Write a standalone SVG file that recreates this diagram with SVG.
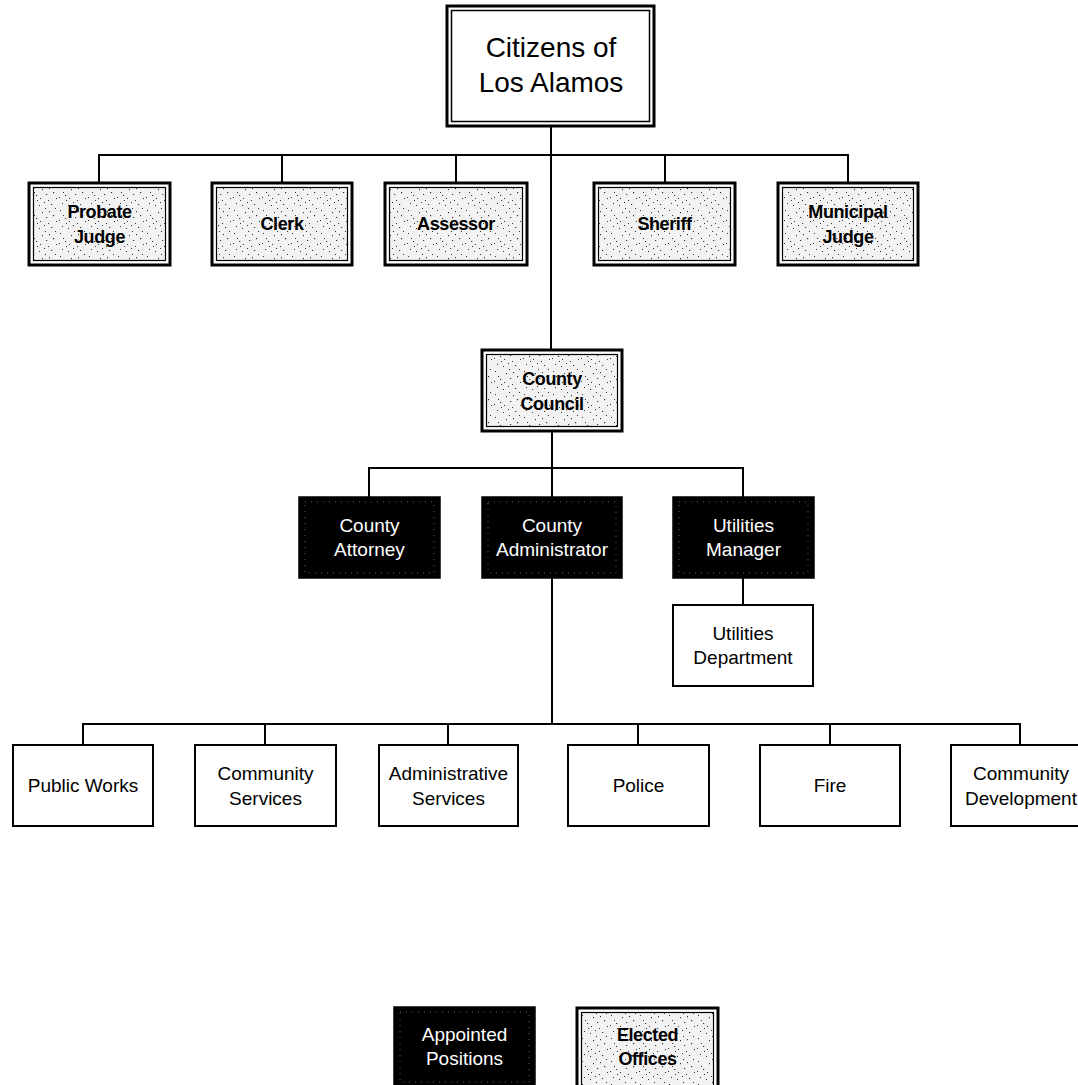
<svg xmlns="http://www.w3.org/2000/svg" width="1078" height="1085" viewBox="0 0 1078 1085">
<style>
.conn{stroke:#000;stroke-width:2;fill:none;stroke-linecap:square}
.outer{fill:#fff;stroke:#000;stroke-width:3}
.inner{fill:url(#stip);stroke:#000;stroke-width:1.2}
.cinner{fill:#fff;stroke:#000;stroke-width:1.5}
.appt{fill:#000;stroke:#000;stroke-width:1.5}
.apptin{fill:none;stroke:#777;stroke-width:0.8;stroke-dasharray:1 5}
.plain{fill:#fff;stroke:#000;stroke-width:2}
text{font-family:"Liberation Sans",Arial,sans-serif;text-anchor:middle}
.tb{font-size:18px;font-weight:bold;fill:#000;letter-spacing:-0.4px}
.tw{font-size:19px;fill:#fff}
.tn{font-size:19px;fill:#000}
.tc{font-size:28px;fill:#000}
</style>
<defs>
<pattern id="stip" width="29" height="23" patternUnits="userSpaceOnUse">
<rect width="29" height="23" fill="#f2f2f2"/>
<g fill="#333">
<rect x="2" y="3" width="1" height="1"/><rect x="7" y="11" width="1.2" height="1"/><rect x="13" y="5" width="1" height="1.2"/>
<rect x="19" y="16" width="1" height="1"/><rect x="24" y="8" width="1.2" height="1.2"/><rect x="4" y="19" width="1" height="1"/>
<rect x="10" y="21" width="1" height="1"/><rect x="16" y="1" width="1" height="1"/><rect x="22" y="20" width="1.2" height="1"/>
<rect x="27" y="14" width="1" height="1"/><rect x="11" y="14" width="1" height="1"/><rect x="5" y="8" width="1" height="1"/>
<rect x="20" y="4" width="1" height="1.2"/><rect x="15" y="18" width="1" height="1"/><rect x="26" y="1" width="1" height="1"/>
<rect x="1" y="13" width="1" height="1"/><rect x="17" y="10" width="1.2" height="1"/><rect x="8" y="16" width="1" height="1"/>
</g>
</pattern>
</defs>

<g id="connectors">
<line class="conn" x1="551" y1="126" x2="551" y2="350"/>
<line class="conn" x1="99" y1="155" x2="848" y2="155"/>
<line class="conn" x1="99" y1="155" x2="99" y2="183"/>
<line class="conn" x1="282" y1="155" x2="282" y2="183"/>
<line class="conn" x1="456" y1="155" x2="456" y2="183"/>
<line class="conn" x1="665" y1="155" x2="665" y2="183"/>
<line class="conn" x1="848" y1="155" x2="848" y2="183"/>
<line class="conn" x1="552" y1="431" x2="552" y2="497"/>
<line class="conn" x1="369" y1="468" x2="743" y2="468"/>
<line class="conn" x1="369" y1="468" x2="369" y2="497"/>
<line class="conn" x1="743" y1="468" x2="743" y2="497"/>
<line class="conn" x1="743" y1="578" x2="743" y2="605"/>
<line class="conn" x1="552" y1="578" x2="552" y2="724"/>
<line class="conn" x1="83" y1="724" x2="1020" y2="724"/>
<line class="conn" x1="83" y1="724" x2="83" y2="745"/>
<line class="conn" x1="265" y1="724" x2="265" y2="745"/>
<line class="conn" x1="448" y1="724" x2="448" y2="745"/>
<line class="conn" x1="638" y1="724" x2="638" y2="745"/>
<line class="conn" x1="830" y1="724" x2="830" y2="745"/>
<line class="conn" x1="1020" y1="724" x2="1020" y2="745"/>
</g>

<g id="citizens">
<rect class="outer" x="447" y="6" width="207" height="120" stroke-width="2.5"/>
<rect class="cinner" x="451.5" y="10.5" width="198" height="111"/>
<text class="tc" x="551" y="57">Citizens of</text>
<text class="tc" x="551" y="92">Los Alamos</text>
</g>

<g id="probate-judge">
<rect class="outer" x="29" y="183" width="141" height="82"/>
<rect class="inner" x="33.5" y="187.5" width="132" height="73"/>
<text class="tb" x="99.5" y="218">Probate</text>
<text class="tb" x="99.5" y="243">Judge</text>
</g>
<g id="clerk">
<rect class="outer" x="212" y="183" width="140" height="82"/>
<rect class="inner" x="216.5" y="187.5" width="131" height="73"/>
<text class="tb" x="282" y="230">Clerk</text>
</g>
<g id="assessor">
<rect class="outer" x="385" y="183" width="142" height="82"/>
<rect class="inner" x="389.5" y="187.5" width="133" height="73"/>
<text class="tb" x="456" y="230">Assessor</text>
</g>
<g id="sheriff">
<rect class="outer" x="594" y="183" width="141" height="82"/>
<rect class="inner" x="598.5" y="187.5" width="132" height="73"/>
<text class="tb" x="664.5" y="230">Sheriff</text>
</g>
<g id="municipal-judge">
<rect class="outer" x="778" y="183" width="140" height="82"/>
<rect class="inner" x="782.5" y="187.5" width="131" height="73"/>
<text class="tb" x="848" y="218">Municipal</text>
<text class="tb" x="848" y="243">Judge</text>
</g>

<g id="county-council">
<rect class="outer" x="482" y="350" width="140" height="81"/>
<rect class="inner" x="486.5" y="354.5" width="131" height="72"/>
<text class="tb" x="552" y="385">County</text>
<text class="tb" x="552" y="410">Council</text>
</g>

<g id="county-attorney">
<rect class="appt" x="299" y="497" width="141" height="81"/>
<rect class="apptin" x="305" y="502" width="129" height="71"/>
<text class="tw" x="369.5" y="532">County</text>
<text class="tw" x="369.5" y="556">Attorney</text>
</g>
<g id="county-administrator">
<rect class="appt" x="482" y="497" width="140" height="81"/>
<rect class="apptin" x="488" y="502" width="128" height="71"/>
<text class="tw" x="552" y="532">County</text>
<text class="tw" x="552" y="556">Administrator</text>
</g>
<g id="utilities-manager">
<rect class="appt" x="673" y="497" width="141" height="81"/>
<rect class="apptin" x="679" y="502" width="129" height="71"/>
<text class="tw" x="743.5" y="532">Utilities</text>
<text class="tw" x="743.5" y="556">Manager</text>
</g>
<g id="utilities-department">
<rect class="plain" x="673" y="605" width="140" height="81"/>
<text class="tn" x="743" y="640">Utilities</text>
<text class="tn" x="743" y="664">Department</text>
</g>

<g id="public-works">
<rect class="plain" x="13" y="745" width="140" height="81"/>
<text class="tn" x="83" y="792">Public Works</text>
</g>
<g id="community-services">
<rect class="plain" x="195" y="745" width="141" height="81"/>
<text class="tn" x="265.5" y="780">Community</text>
<text class="tn" x="265.5" y="805">Services</text>
</g>
<g id="administrative-services">
<rect class="plain" x="379" y="745" width="139" height="81"/>
<text class="tn" x="448.5" y="780">Administrative</text>
<text class="tn" x="448.5" y="805">Services</text>
</g>
<g id="police">
<rect class="plain" x="568" y="745" width="141" height="81"/>
<text class="tn" x="638.5" y="792">Police</text>
</g>
<g id="fire">
<rect class="plain" x="760" y="745" width="140" height="81"/>
<text class="tn" x="830" y="792">Fire</text>
</g>
<g id="community-development">
<rect class="plain" x="951" y="745" width="140" height="81"/>
<text class="tn" x="1021" y="780">Community</text>
<text class="tn" x="1021" y="805">Development</text>
</g>

<g id="legend-appointed">
<rect class="appt" x="394" y="1007" width="141" height="85"/>
<rect class="apptin" x="400" y="1012" width="129" height="70"/>
<text class="tw" x="464.5" y="1041">Appointed</text>
<text class="tw" x="464.5" y="1065">Positions</text>
</g>
<g id="legend-elected">
<rect class="outer" x="577" y="1008" width="141" height="85"/>
<rect class="inner" x="581.5" y="1012.5" width="132" height="76"/>
<text class="tb" x="647.5" y="1041">Elected</text>
<text class="tb" x="647.5" y="1065">Offices</text>
</g>
</svg>
